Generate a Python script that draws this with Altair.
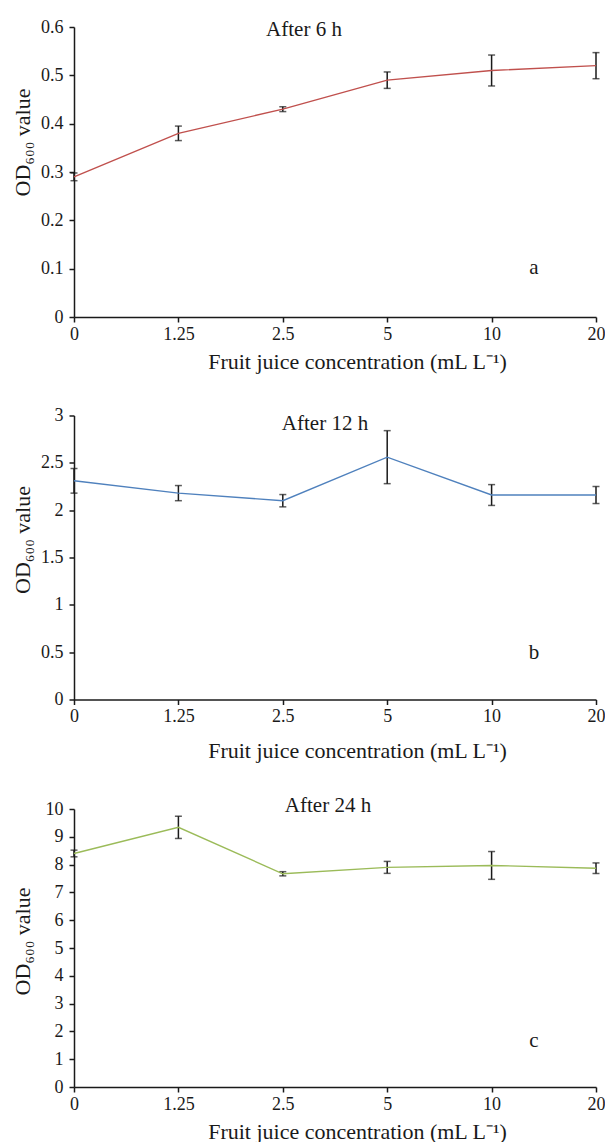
import altair as alt
import pandas as pd

conc = ["0", "1.25", "2.5", "5", "10", "20"]

od_6h = [0.29, 0.38, 0.43, 0.49, 0.51, 0.52]
err_6h = [0.008, 0.015, 0.005, 0.017, 0.032, 0.027]

od_12h = [2.31, 2.18, 2.10, 2.56, 2.16, 2.16]
err_12h = [0.13, 0.08, 0.065, 0.28, 0.11, 0.09]

od_24h = [8.40, 9.34, 7.67, 7.90, 7.97, 7.87]
err_24h = [0.12, 0.40, 0.075, 0.215, 0.50, 0.19]

ticks_6h = [0, 0.1, 0.2, 0.3, 0.4, 0.5, 0.6]
ticks_12h = [0, 0.5, 1, 1.5, 2, 2.5, 3]
ticks_24h = [0, 1, 2, 3, 4, 5, 6, 7, 8, 9, 10]

FONT = "Liberation Serif"
INK = "#1a1a1a"
W = 522


def panel(vals, errs, color, yticks, title, title_xy, letter, letter_y, ytitle_y, xtitle_y, height):
    df = pd.DataFrame({
        "conc": conc,
        "od": vals,
        "lo": [v - e for v, e in zip(vals, errs)],
        "hi": [v + e for v, e in zip(vals, errs)],
    })
    xscale = alt.Scale(type="point", padding=0)
    yscale = alt.Scale(domain=[yticks[0], yticks[-1]], nice=False, zero=True)
    xaxis = alt.Axis(
        title="Fruit juice concentration (mL L\u207b\u00b9)",
        labelAngle=0, tickSize=5, labelPadding=3,
        labelFont=FONT, labelFontSize=18, labelColor=INK,
        titleFont=FONT, titleFontSize=22, titleColor=INK, titleFontWeight="normal",
        titleX=283, titleY=xtitle_y, titleBaseline="alphabetic", titleAlign="center",
        domainColor=INK, tickColor=INK, domainWidth=1.5, tickWidth=1.5,
        labelOverlap=False, grid=False,
    )
    yaxis = alt.Axis(
        title="OD\u2086\u2080\u2080 value", values=yticks, format="~r",
        tickSize=5, labelPadding=6, grid=False, labelOverlap=False,
        labelFont=FONT, labelFontSize=18, labelColor=INK,
        titleFont=FONT, titleFontSize=22, titleColor=INK, titleFontWeight="normal",
        titleAngle=270, titleX=-45, titleY=ytitle_y,
        titleAlign="center", titleBaseline="alphabetic",
        domainColor=INK, tickColor=INK, domainWidth=1.5, tickWidth=1.5,
    )
    xenc = alt.X("conc:N", sort=conc, scale=xscale, axis=xaxis)
    base = alt.Chart(df)
    line = base.mark_line(color=color, strokeWidth=1.4).encode(
        x=xenc, y=alt.Y("od:Q", scale=yscale, axis=yaxis),
    )
    bars = base.mark_rule(color=INK, strokeWidth=1.5).encode(
        x=xenc, y=alt.Y("lo:Q", scale=yscale, axis=yaxis), y2="hi:Q"
    )
    cap_lo = base.mark_tick(color=INK, orient="horizontal", size=7, thickness=1.5).encode(
        x=xenc, y=alt.Y("lo:Q", scale=yscale, axis=yaxis)
    )
    cap_hi = base.mark_tick(color=INK, orient="horizontal", size=7, thickness=1.5).encode(
        x=xenc, y=alt.Y("hi:Q", scale=yscale, axis=yaxis)
    )
    ttl = alt.Chart(pd.DataFrame({"t": [title]})).mark_text(
        font=FONT, fontSize=21, color=INK, align="center", baseline="alphabetic"
    ).encode(text="t:N", x=alt.value(title_xy[0]), y=alt.value(title_xy[1]))
    let = alt.Chart(pd.DataFrame({"t": [letter]})).mark_text(
        font=FONT, fontSize=21, color=INK, align="center", baseline="alphabetic"
    ).encode(text="t:N", x=alt.value(460), y=alt.value(letter_y))
    return alt.layer(bars, cap_lo, cap_hi, line, ttl, let).properties(width=W, height=height)


pa = panel(od_6h, err_6h, "#C0504D", ticks_6h, "After 6 h", (230, 9), "a", 247, 115, 51, 290)
pb = panel(od_12h, err_12h, "#4F81BD", ticks_12h, "After 12 h", (251, 14), "b", 243, 124, 58, 284)
pc = panel(od_24h, err_24h, "#9BBB59", ticks_24h, "After 24 h", (254, 3), "c", 238, 132, 51, 278)

top = alt.vconcat(pa, pb, spacing=34.5)
chart = alt.vconcat(top, pc, spacing=33).properties(
    padding={"left": 3, "top": 10, "right": 0, "bottom": 0}
).configure(font=FONT).configure_view(stroke=None).configure_axis(
    labelFont=FONT, labelFontSize=18, titleFont=FONT, titleFontSize=22
)

chart.save("out.html", embed_options={"renderer": "svg", "actions": False})
